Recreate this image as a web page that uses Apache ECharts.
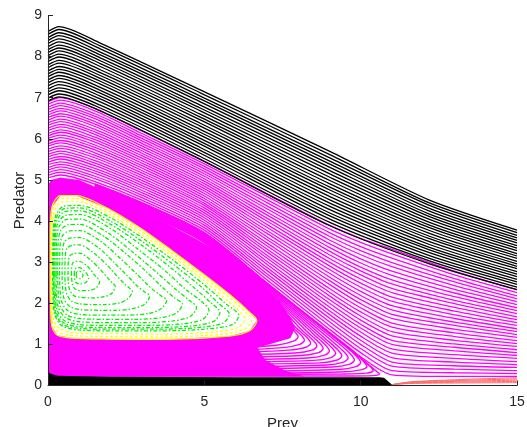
<!DOCTYPE html>
<html>
<head>
<meta charset="utf-8">
<script src="https://cdn.jsdelivr.net/npm/echarts@6/dist/echarts.min.js"></script>
<style>
  html, body { margin: 0; padding: 0; background: #ffffff; }
  #chart { width: 527px; height: 427px; }
</style>
</head>
<body>
<div id="chart"></div>
<script>
// Predator-prey phase portrait: trajectories in the (prey, predator) plane.

// Upper family (black): predator values sampled at these prey values.
const blackPrey = [0, 0.35, 1.67, 4.87, 9.03, 12.2, 15];
const blackPredator = [
  [8.61, 8.73, 8.33, 7.19, 5.69, 4.51, 3.78],
  [8.54, 8.66, 8.26, 7.12, 5.61, 4.44, 3.72],
  [8.46, 8.58, 8.19, 7.04, 5.53, 4.38, 3.65],
  [8.39, 8.51, 8.11, 6.97, 5.45, 4.31, 3.59],
  [8.32, 8.43, 8.04, 6.90, 5.38, 4.24, 3.53],
  [8.24, 8.36, 7.97, 6.82, 5.30, 4.17, 3.47],
  [8.17, 8.28, 7.90, 6.75, 5.22, 4.11, 3.40],
  [8.10, 8.21, 7.83, 6.68, 5.14, 4.04, 3.34],
  [8.02, 8.14, 7.76, 6.60, 5.06, 3.97, 3.28],
  [7.95, 8.06, 7.68, 6.53, 4.98, 3.90, 3.21],
  [7.88, 7.99, 7.61, 6.46, 4.90, 3.84, 3.15],
  [7.80, 7.91, 7.54, 6.38, 4.82, 3.77, 3.09],
  [7.73, 7.84, 7.47, 6.31, 4.75, 3.70, 3.02],
  [7.65, 7.76, 7.40, 6.23, 4.67, 3.63, 2.96],
  [7.58, 7.69, 7.33, 6.16, 4.59, 3.57, 2.90],
  [7.51, 7.62, 7.25, 6.09, 4.51, 3.50, 2.84],
  [7.43, 7.54, 7.18, 6.01, 4.43, 3.43, 2.77],
  [7.36, 7.47, 7.11, 5.94, 4.35, 3.36, 2.71],
  [7.29, 7.39, 7.04, 5.87, 4.27, 3.30, 2.65],
  [7.21, 7.32, 6.97, 5.79, 4.19, 3.23, 2.58],
  [7.14, 7.24, 6.90, 5.72, 4.12, 3.16, 2.52],
  [7.07, 7.17, 6.82, 5.65, 4.04, 3.09, 2.46],
  [6.99, 7.09, 6.75, 5.57, 3.96, 3.03, 2.39],
  [6.92, 7.02, 6.68, 5.50, 3.88, 2.96, 2.33]
];

// Magenta trajectories that leave through the right edge.
const magentaPrey = [0, 0.4, 1.5, 3, 5, 7, 9, 10, 11, 13, 15];
const magentaPredator = [
  [6.90, 7.00, 6.74, 6.19, 5.45, 4.67, 3.90, 3.58, 3.31, 2.78, 2.33],
  [6.84, 6.94, 6.68, 6.13, 5.39, 4.60, 3.81, 3.48, 3.20, 2.69, 2.26],
  [6.77, 6.87, 6.61, 6.07, 5.33, 4.52, 3.72, 3.38, 3.10, 2.60, 2.18],
  [6.71, 6.81, 6.55, 6.01, 5.27, 4.45, 3.63, 3.28, 2.99, 2.52, 2.11],
  [6.64, 6.74, 6.49, 5.95, 5.21, 4.37, 3.54, 3.18, 2.89, 2.43, 2.04],
  [6.58, 6.68, 6.42, 5.89, 5.15, 4.30, 3.45, 3.08, 2.78, 2.34, 1.97],
  [6.52, 6.61, 6.36, 5.83, 5.09, 4.22, 3.36, 2.98, 2.68, 2.25, 1.89],
  [6.45, 6.55, 6.30, 5.77, 5.03, 4.15, 3.27, 2.88, 2.57, 2.16, 1.82],
  [6.39, 6.48, 6.23, 5.71, 4.97, 4.07, 3.18, 2.79, 2.47, 2.07, 1.75],
  [6.33, 6.42, 6.17, 5.65, 4.91, 4.00, 3.09, 2.69, 2.36, 1.99, 1.67],
  [6.26, 6.35, 6.11, 5.59, 4.85, 3.92, 3.00, 2.59, 2.26, 1.90, 1.60],
  [6.20, 6.29, 6.04, 5.53, 4.79, 3.85, 2.91, 2.49, 2.15, 1.81, 1.53],
  [6.13, 6.22, 5.98, 5.47, 4.73, 3.77, 2.82, 2.39, 2.05, 1.72, 1.46],
  [6.07, 6.16, 5.92, 5.41, 4.67, 3.70, 2.73, 2.29, 1.94, 1.63, 1.38],
  [6.01, 6.09, 5.85, 5.35, 4.61, 3.62, 2.64, 2.19, 1.84, 1.54, 1.31],
  [5.94, 6.03, 5.79, 5.29, 4.55, 3.55, 2.55, 2.09, 1.73, 1.46, 1.24],
  [5.88, 5.96, 5.73, 5.23, 4.49, 3.47, 2.46, 1.99, 1.63, 1.37, 1.17],
  [5.82, 5.90, 5.66, 5.17, 4.43, 3.40, 2.36, 1.89, 1.52, 1.28, 1.09],
  [5.75, 5.83, 5.60, 5.11, 4.38, 3.32, 2.27, 1.79, 1.42, 1.19, 1.02],
  [5.69, 5.77, 5.54, 5.05, 4.32, 3.25, 2.18, 1.69, 1.31, 1.10, 0.95],
  [5.62, 5.70, 5.47, 4.99, 4.26, 3.17, 2.09, 1.59, 1.21, 1.01, 0.87],
  [5.56, 5.64, 5.41, 4.93, 4.20, 3.10, 2.00, 1.49, 1.10, 0.93, 0.80],
  [5.50, 5.57, 5.35, 4.87, 4.14, 3.02, 1.91, 1.40, 1.00, 0.84, 0.73],
  [5.43, 5.51, 5.28, 4.81, 4.08, 2.95, 1.82, 1.30, 0.89, 0.75, 0.66],
  [5.37, 5.44, 5.22, 4.75, 4.02, 2.87, 1.73, 1.20, 0.79, 0.66, 0.58],
  [5.30, 5.38, 5.16, 4.69, 3.96, 2.80, 1.64, 1.10, 0.68, 0.57, 0.51],
  [5.24, 5.32, 5.09, 4.63, 3.90, 2.72, 1.55, 1.00, 0.57, 0.48, 0.44],
  [5.18, 5.25, 5.03, 4.57, 3.84, 2.65, 1.46, 0.90, 0.47, 0.40, 0.36],
  [5.11, 5.19, 4.96, 4.51, 3.78, 2.57, 1.37, 0.80, 0.36, 0.31, 0.29],
  [5.05, 5.12, 4.90, 4.45, 3.72, 2.50, 1.28, 0.70, 0.26, 0.22, 0.22]
];

// Magenta trajectories that turn back and wind onto the limit cycle.
const returningPaths = [
  [[1.5,4.90],[3,4.44],[5,3.71],[7,2.49],[9,1.27],[10.0,0.66],[10.45,0.38],[10.6,0.28],[10.4,0.24],[9.5,0.23],[6,0.23],[1,0.23]],
  [[1.5,4.90],[3,4.44],[5,3.70],[7,2.48],[9.8,0.80],[10.3,0.47],[10.4,0.36],[10.2,0.30],[9.4,0.28],[6,0.27],[1,0.27]],
  [[1.5,4.89],[3,4.43],[5,3.70],[7,2.47],[9.7,0.88],[10.1,0.58],[10.2,0.46],[10.0,0.38],[9.35,0.33],[6,0.30],[1,0.30]],
  [[1.5,4.89],[3,4.43],[5,3.69],[7,2.46],[9.5,0.96],[9.88,0.70],[10.0,0.56],[9.85,0.46],[9.3,0.39],[6,0.34],[3,0.32],[1,0.32]],
  [[1.5,4.88],[3,4.41],[5,3.67],[7,2.43],[9.3,1.02],[9.68,0.76],[9.8,0.62],[9.65,0.52],[9.1,0.45],[6,0.40],[3,0.38],[1,0.38]],
  [[1.5,4.88],[3,4.39],[5,3.65],[7,2.40],[9.1,1.07],[9.48,0.81],[9.6,0.67],[9.45,0.57],[8.9,0.50],[6,0.46],[3,0.44],[1,0.44]],
  [[1.5,4.87],[3,4.38],[5,3.63],[7,2.37],[8.9,1.12],[9.28,0.86],[9.4,0.72],[9.25,0.62],[8.7,0.55],[6,0.52],[3,0.50],[1,0.50]],
  [[1.5,4.87],[3,4.36],[5,3.61],[7,2.34],[8.7,1.18],[9.08,0.92],[9.2,0.78],[9.05,0.68],[8.5,0.61],[6,0.57],[3,0.55],[1,0.55]],
  [[1.5,4.86],[3,4.34],[5,3.59],[7,2.31],[8.5,1.24],[8.88,0.98],[9.0,0.84],[8.85,0.74],[8.3,0.67],[6,0.63],[3,0.61],[1,0.61]],
  [[1.5,4.85],[3,4.32],[5,3.57],[7,2.28],[8.3,1.30],[8.68,1.04],[8.8,0.90],[8.65,0.80],[8.1,0.73],[6,0.69],[3,0.67],[1,0.67]],
  [[1.5,4.85],[3,4.30],[5,3.55],[7,2.25],[8.1,1.36],[8.48,1.10],[8.6,0.96],[8.45,0.86],[7.9,0.79],[6,0.75],[3,0.73],[1,0.73]],
  [[1.5,4.84],[3,4.29],[5,3.53],[7,2.22],[7.9,1.43],[8.28,1.17],[8.4,1.03],[8.25,0.93],[7.7,0.86],[6,0.81],[3,0.79],[1,0.79]],
  [[1.5,4.83],[3,4.27],[5,3.51],[7,2.19],[7.7,1.50],[8.08,1.24],[8.2,1.10],[8.05,1.00],[7.5,0.92],[6,0.86],[3,0.84],[1,0.84]],
  [[1.5,4.83],[3,4.25],[5,3.49],[7,2.16],[7.5,1.58],[7.88,1.32],[8.0,1.18],[7.85,1.08],[7.3,0.98],[6,0.92],[3,0.90],[1,0.90]],
  [[1.5,4.82],[3,4.23],[5,3.47],[7,2.13],[7.3,1.68],[7.68,1.42],[7.8,1.28],[7.65,1.17],[7.1,1.05],[6,0.98],[3,0.96],[1,0.96]]
];

// Densely wound magenta region around the limit cycle and along the bottom.
const limitCycleBand = [
  [0,0.22],[0,4.88],[0.1,5.0],[0.39,5.06],[1.0,5.0],[2.0,4.67],[3.0,4.24],[4.0,3.86],
  [4.76,3.56],[5.83,3.06],[6.9,2.42],[7.4,2.04],[7.75,1.66],[7.9,1.4],[7.75,1.15],
  [7.2,1.03],[6.7,0.92],[6.95,0.62],[7.6,0.36],[8.2,0.22]
];

// Yellow orbits just inside the limit cycle (outermost first).
const yellowOrbits = [
  [[0.07,2.69],[0.07,3.7],[0.13,4.35],[0.4,4.62],[0.9,4.62],[1.9,4.31],[2.95,3.83],[4.0,3.26],[4.9,2.75],[5.83,2.2],[6.45,1.78],[6.68,1.58],[6.45,1.33],[5.8,1.2],[3.7,1.12],[2.0,1.13],[0.8,1.15],[0.3,1.22],[0.12,1.45],[0.08,2.0],[0.07,2.69]],
  [[0.09,2.69],[0.09,3.68],[0.16,4.3],[0.43,4.55],[0.92,4.55],[1.93,4.24],[2.97,3.76],[4.0,3.2],[4.92,2.67],[5.8,2.14],[6.33,1.78],[6.52,1.6],[6.3,1.38],[5.6,1.25],[3.65,1.18],[2.0,1.19],[0.85,1.21],[0.35,1.29],[0.15,1.52],[0.1,2.05],[0.09,2.69]],
  [[0.12,2.69],[0.12,3.64],[0.2,4.22],[0.46,4.47],[0.95,4.47],[1.96,4.16],[2.98,3.68],[4.0,3.13],[4.96,2.57],[5.75,2.06],[6.2,1.74],[6.3,1.62],[6.1,1.42],[5.3,1.3],[3.6,1.25],[2.0,1.26],[0.9,1.28],[0.4,1.37],[0.18,1.6],[0.13,2.1],[0.12,2.69]]
];

// Green orbits around the interior equilibrium (outermost first).
const greenOrbits = [
  [[0.15,2.69],[0.16,3.6],[0.24,4.12],[0.5,4.36],[1.0,4.38],[2.0,4.08],[3.0,3.6],[4.0,3.05],[5.0,2.45],[5.7,1.98],[6.1,1.7],[5.9,1.48],[5.0,1.37],[3.5,1.33],[2.0,1.33],[1.0,1.35],[0.45,1.45],[0.22,1.72],[0.16,2.2],[0.15,2.69]],
  [[0.17,2.69],[0.18,3.58],[0.26,4.07],[0.52,4.3],[1.0,4.32],[2.0,4.0],[3.0,3.51],[4.0,2.95],[4.9,2.4],[5.45,2.0],[5.8,1.74],[5.6,1.52],[4.8,1.41],[3.4,1.37],[2.0,1.37],[1.0,1.39],[0.47,1.49],[0.24,1.76],[0.18,2.23],[0.17,2.69]],
  [[0.19,2.69],[0.2,3.55],[0.28,4.01],[0.54,4.23],[1.0,4.25],[2.0,3.92],[3.0,3.41],[3.9,2.88],[4.7,2.36],[5.2,2.02],[5.5,1.78],[5.3,1.56],[4.6,1.45],[3.3,1.41],[2.0,1.41],[1.0,1.43],[0.49,1.53],[0.26,1.8],[0.2,2.26],[0.19,2.69]],
  [[0.22,2.69],[0.23,3.52],[0.31,3.94],[0.57,4.14],[1.0,4.16],[2.0,3.82],[2.9,3.3],[3.7,2.82],[4.4,2.34],[4.9,2.05],[5.15,1.83],[4.95,1.61],[4.3,1.5],[3.1,1.46],[2.0,1.46],[1.0,1.48],[0.52,1.58],[0.29,1.84],[0.23,2.29],[0.22,2.69]],
  [[0.26,2.69],[0.27,3.47],[0.35,3.86],[0.6,4.04],[1.0,4.05],[1.9,3.72],[2.7,3.25],[3.4,2.8],[4.1,2.33],[4.5,2.08],[4.75,1.9],[4.55,1.68],[4.0,1.57],[3.0,1.53],[2.0,1.53],[1.0,1.55],[0.56,1.65],[0.33,1.9],[0.27,2.32],[0.26,2.69]],
  [[0.31,2.69],[0.32,3.41],[0.4,3.76],[0.64,3.91],[1.0,3.92],[1.8,3.62],[2.5,3.2],[3.1,2.8],[3.7,2.36],[4.05,2.13],[4.3,1.98],[4.1,1.76],[3.6,1.65],[2.8,1.61],[1.9,1.61],[1.0,1.63],[0.6,1.72],[0.38,1.96],[0.32,2.36],[0.31,2.69]],
  [[0.37,2.69],[0.38,3.34],[0.46,3.64],[0.68,3.76],[1.0,3.77],[1.7,3.5],[2.3,3.1],[2.8,2.74],[3.3,2.37],[3.6,2.19],[3.8,2.07],[3.6,1.86],[3.2,1.75],[2.5,1.71],[1.8,1.71],[1.0,1.73],[0.65,1.81],[0.44,2.03],[0.38,2.4],[0.37,2.69]],
  [[0.45,2.69],[0.46,3.24],[0.53,3.5],[0.73,3.59],[1.0,3.6],[1.6,3.36],[2.1,3.0],[2.5,2.7],[2.85,2.42],[3.1,2.27],[3.25,2.18],[3.1,1.98],[2.7,1.87],[2.2,1.83],[1.6,1.83],[1.0,1.85],[0.7,1.92],[0.51,2.12],[0.46,2.44],[0.45,2.69]],
  [[0.54,2.69],[0.55,3.14],[0.61,3.34],[0.78,3.41],[1.0,3.42],[1.5,3.2],[1.9,2.92],[2.2,2.67],[2.45,2.47],[2.6,2.37],[2.7,2.3],[2.55,2.11],[2.25,2.0],[1.8,1.97],[1.4,1.97],[1.0,1.99],[0.76,2.05],[0.6,2.22],[0.55,2.48],[0.54,2.69]],
  [[0.64,2.69],[0.65,3.02],[0.7,3.16],[0.84,3.21],[1.0,3.22],[1.35,3.06],[1.65,2.84],[1.88,2.64],[2.05,2.5],[2.15,2.42],[2.05,2.25],[1.8,2.16],[1.4,2.13],[1.0,2.15],[0.82,2.19],[0.69,2.33],[0.65,2.52],[0.64,2.69]],
  [[0.75,2.69],[0.76,2.9],[0.8,2.99],[0.9,3.02],[1.05,3.01],[1.3,2.87],[1.5,2.68],[1.65,2.53],[1.55,2.38],[1.3,2.31],[1.0,2.31],[0.86,2.35],[0.78,2.46],[0.75,2.69]],
  [[0.84,2.69],[0.85,2.8],[0.9,2.86],[1.0,2.87],[1.15,2.8],[1.3,2.62],[1.2,2.5],[1.0,2.47],[0.88,2.52],[0.84,2.69]],
  [[0.9,2.69],[0.92,2.76],[1.0,2.78],[1.12,2.68],[1.04,2.6],[0.93,2.62],[0.9,2.69]]
];

// Black region hugging the prey axis (predator collapse).
const collapseBand = [
  [0,0],[0,0.4],[0.05,0.3],[0.3,0.24],[2,0.21],[6,0.2],[10.6,0.2],[10.75,0.19],[11.03,0]
];

// Red trajectories near the prey carrying capacity.
const redPrey = [11.0, 11.6, 13, 15];
const redPredator = [
  [0.02, 0.05, 0.06, 0.07],
  [0.02, 0.06, 0.08, 0.10],
  [0.02, 0.07, 0.10, 0.13],
  [0.02, 0.08, 0.12, 0.16],
  [0.02, 0.09, 0.14, 0.19]
];

const FONT = "'Liberation Sans', Arial, Helvetica, sans-serif";
const TEXT = '#262626';

function pair(xs, ys) { return xs.map((x, i) => [x, ys[i]]); }

function lineSeries(points, style, z, smooth) {
  return {
    type: 'line',
    data: points,
    symbol: 'none',
    silent: true,
    animation: false,
    smooth: smooth,
    z: z,
    lineStyle: style
  };
}

function polygonSeries(points, fill, z) {
  return {
    type: 'custom',
    coordinateSystem: 'cartesian2d',
    silent: true,
    animation: false,
    z: z,
    data: [[0, 0]],
    renderItem: function (params, api) {
      return {
        type: 'polygon',
        shape: { points: points.map(function (p) { return api.coord(p); }) },
        style: { fill: fill, stroke: null }
      };
    }
  };
}

const series = [];

magentaPredator.forEach(function (row) {
  series.push(lineSeries(pair(magentaPrey, row), { color: '#ff00ff', width: 1.3 }, 2, 0.25));
});
returningPaths.forEach(function (path) {
  series.push(lineSeries(path, { color: '#ff00ff', width: 1.4 }, 2, 0.3));
});
series.push(polygonSeries(limitCycleBand, '#ff00ff', 3));
series.push(polygonSeries(yellowOrbits[0], '#ffffff', 4));
yellowOrbits.forEach(function (orbit, i) {
  series.push(lineSeries(orbit,
    { color: '#ffff00', width: 1.2, type: i === 0 ? 'solid' : [3, 2] }, 5, 0.3));
});
greenOrbits.forEach(function (orbit) {
  series.push(lineSeries(orbit, { color: '#00ee00', width: 1.25, type: [4, 2, 1.5, 2] }, 6, 0.3));
});
blackPredator.forEach(function (row) {
  series.push(lineSeries(pair(blackPrey, row), { color: '#000000', width: 1.3 }, 7, 0.25));
});
series.push(polygonSeries(collapseBand, '#000000', 8));
redPredator.forEach(function (row) {
  series.push(lineSeries(pair(redPrey, row), { color: '#ff6a6a', width: 1 }, 8, 0.25));
});

const chart = echarts.init(document.getElementById('chart'), null, { renderer: 'canvas' });
chart.setOption({
  animation: false,
  backgroundColor: '#ffffff',
  grid: {
    left: 48, right: 10, top: 15.5, bottom: 41.5,
    containLabel: false, outerBoundsMode: 'none'
  },
  xAxis: {
    type: 'value', min: 0, max: 15, interval: 5, z: 10,
    name: 'Prey', nameLocation: 'middle', nameGap: 31, nameMoveOverlap: false,
    nameTextStyle: { color: TEXT, fontSize: 15, fontFamily: FONT },
    axisLine: { show: true, onZero: false, lineStyle: { color: '#262626', width: 1 } },
    axisTick: { show: true, inside: true, length: 5, lineStyle: { color: '#262626' } },
    axisLabel: { color: TEXT, fontSize: 14, fontFamily: FONT, margin: 10 },
    splitLine: { show: false }
  },
  yAxis: {
    type: 'value', min: 0, max: 9, interval: 1, z: 10,
    name: 'Predator', nameLocation: 'middle', nameGap: 21, nameMoveOverlap: false,
    nameTextStyle: { color: TEXT, fontSize: 15, fontFamily: FONT },
    axisLine: { show: true, onZero: false, lineStyle: { color: '#262626', width: 1 } },
    axisTick: { show: true, inside: true, length: 5, lineStyle: { color: '#262626' } },
    axisLabel: { color: TEXT, fontSize: 14, fontFamily: FONT, margin: 6 },
    splitLine: { show: false }
  },
  series: series
});
</script>
</body>
</html>
